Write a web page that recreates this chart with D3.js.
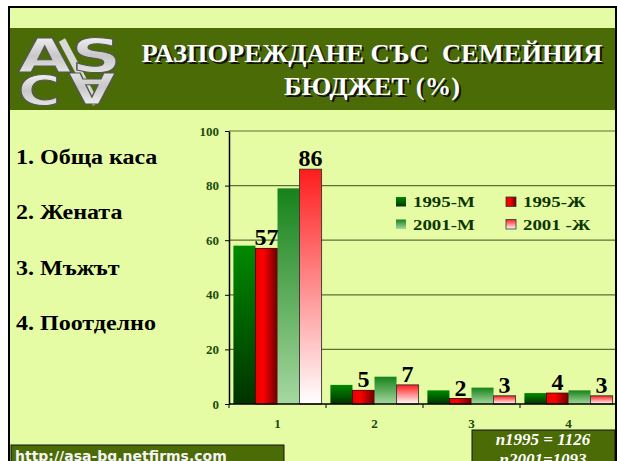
<!DOCTYPE html>
<html>
<head>
<meta charset="utf-8" />
<title>Разпореждане със семейния бюджет</title>
<style>
  body { margin: 0; background: #fff; }
  svg { display: block; }
  text { white-space: pre; }
</style>
</head>
<body>
<div id="chart"></div>
<script src="https://cdn.jsdelivr.net/npm/d3@7/dist/d3.min.js"></script>
<script>
// data
var categories = ["1", "2", "3", "4"];
var categoryNames = ["1. Обща каса", "2. Жената", "3. Мъжът", "4. Поотделно"];
var seriesNames = ["1995-М", "1995-Ж", "2001-М", "2001 -Ж"];
var values1995M = [58, 7, 5, 4];
var values1995F = [57, 5, 2, 4];
var values2001M = [79, 10, 6, 5];
var values2001F = [86, 7, 3, 3];
var labelledSeries = ["1995-Ж", "2001 -Ж"];
var yTicks = [0, 20, 40, 60, 80, 100];
var titleLines = ["РАЗПОРЕЖДАНЕ СЪС  СЕМЕЙНИЯ", "БЮДЖЕТ (%)"];
var sampleNotes = ["n1995 = 1126", "n2001=1093"];
var siteUrl = "http://asa-bg.netfirms.com";

var width = 618, height = 461;
var serif = "'Liberation Serif', 'Times New Roman', serif";
var pale = "#e6fca4", olive = "#4b6b06", tickGreen = "#1c4a08";

var svg = d3.select("#chart").append("svg").attr("width", width).attr("height", height);
var defs = svg.append("defs");

function grad(id, horizontal, stops) {
  var g = defs.append("linearGradient").attr("id", id)
    .attr("x1", 0).attr("y1", 0).attr("x2", horizontal ? 1 : 0).attr("y2", horizontal ? 0 : 1);
  stops.forEach(function(s) { g.append("stop").attr("offset", s[0]).attr("stop-color", s[1]); });
}
grad("g0", false, [[0, "#008a00"], [1, "#003300"]]);
grad("g1", true, [[0, "#e80000"], [0.35, "#ff0000"], [1, "#6a0000"]]);
grad("g2", false, [[0, "#16821a"], [1, "#a6d8a0"]]);
grad("g3", false, [[0, "#ff1c1c"], [1, "#ffffff"]]);
grad("silver", false, [[0, "#ffffff"], [0.5, "#c8c8c8"], [1, "#f4f4f4"]]);
var fills = ["url(#g0)", "url(#g1)", "url(#g2)", "url(#g3)"];
var strokes = ["none", "#500000", "none", "#333"];

// stretch text horizontally like the original slide rendering
function stretch(sel, k) {
  sel.each(function() {
    var w = this.getComputedTextLength();
    d3.select(this).attr("textLength", w * k).attr("lengthAdjust", "spacingAndGlyphs");
  });
}

// frame
svg.append("rect").attr("x", 9).attr("y", 7).attr("width", 607).attr("height", 470)
  .attr("fill", pale).attr("stroke", "#000").attr("stroke-width", 2);

// title band
svg.append("rect").attr("x", 10).attr("y", 28).attr("width", 605).attr("height", 82).attr("fill", olive);

// logo
var logo = svg.append("g").attr("font-family", "'DejaVu Sans', sans-serif").attr("font-weight", "bold")
  .attr("fill", "url(#silver)").attr("stroke", "#555").attr("stroke-width", 1);
logo.append("line").attr("x1", 62).attr("y1", 40).attr("x2", 96).attr("y2", 104)
  .attr("stroke", "#d8d8d8").attr("stroke-width", 7);
logo.append("text").attr("x", 18).attr("y", 72).attr("font-size", 46).text("AS").call(stretch, 1.5);
logo.append("text").attr("x", 18).attr("y", 105).attr("font-size", 40).text("C").call(stretch, 1.45);
logo.append("text").attr("x", 92).attr("y", 88).attr("font-size", 42).attr("text-anchor", "middle")
  .attr("transform", "rotate(180,92,88)").attr("dy", "0.36em").text("A").call(stretch, 1.45);

// title
var title = svg.append("g").attr("font-family", serif).attr("font-weight", "bold")
  .attr("font-size", 25).attr("text-anchor", "middle");
titleLines.forEach(function(t, i) {
  var yy = 62 + i * 33;
  title.append("text").attr("x", 374).attr("y", yy + 2).attr("fill", "#111").text(t).call(stretch, 1.06);
  title.append("text").attr("x", 372).attr("y", yy).attr("fill", "#fff").text(t).call(stretch, 1.06);
});

// category names on the left
svg.append("g").selectAll("text").data(categoryNames).enter().append("text")
  .attr("x", 16).attr("y", function(d, i) { return 164 + i * 55.3; })
  .attr("font-family", serif).attr("font-weight", "bold").attr("font-size", 20)
  .attr("fill", "#000").text(function(d) { return d; }).call(stretch, 1.2);

// scales
var x0 = d3.scaleBand().domain(categories).range([229, 617]);
var x1 = d3.scaleBand().domain(seriesNames).range([4.4, x0.bandwidth() - 4.4]);
var y = d3.scaleLinear().domain([0, 100]).range([404, 131]);

var table = categories.map(function(c, i) {
  return { cat: c, vals: [values1995M[i], values1995F[i], values2001M[i], values2001F[i]] };
});

// gridlines
svg.append("g").selectAll("line").data(yTicks.slice(1)).enter().append("line")
  .attr("x1", 229).attr("x2", 615).attr("y1", function(d) { return y(d); }).attr("y2", function(d) { return y(d); })
  .attr("stroke", "#5c6e38").attr("stroke-width", 1.2);

// legend
var legend = svg.append("g");
seriesNames.forEach(function(s, i) {
  var lx = 396 + (i % 2) * 110, ly = 197 + Math.floor(i / 2) * 22.5;
  legend.append("rect").attr("x", lx).attr("y", ly).attr("width", 10).attr("height", 9.5)
    .attr("fill", fills[i]).attr("stroke", strokes[i] === "none" ? "none" : "#333").attr("stroke-width", 0.8);
  legend.append("text").attr("x", lx + 17).attr("y", ly + 10)
    .attr("font-family", serif).attr("font-weight", "bold").attr("font-size", 14.5)
    .attr("fill", "#0c3600").text(s).call(stretch, 1.3);
});

// bars
var groups = svg.append("g").selectAll("g").data(table).enter().append("g")
  .attr("transform", function(d) { return "translate(" + x0(d.cat) + ",0)"; });
groups.selectAll("rect").data(function(d) {
  return d.vals.map(function(v, i) { return { key: seriesNames[i], v: v, i: i }; });
}).enter().append("rect")
  .attr("x", function(d) { return x1(d.key); })
  .attr("y", function(d) { return y(d.v); })
  .attr("width", x1.bandwidth())
  .attr("height", function(d) { return y(0) - y(d.v); })
  .attr("fill", function(d) { return fills[d.i]; })
  .attr("stroke", function(d) { return strokes[d.i]; })
  .attr("stroke-width", 0.9);

// value labels on the women's bars
groups.selectAll("text.val").data(function(d) {
  return d.vals.map(function(v, i) { return { key: seriesNames[i], v: v }; })
    .filter(function(e) { return labelledSeries.indexOf(e.key) >= 0; });
}).enter().append("text").attr("class", "val")
  .attr("x", function(d) { return x1(d.key) + x1.bandwidth() / 2; })
  .attr("y", function(d) { return y(d.v) - 3; })
  .attr("text-anchor", "middle").attr("font-family", serif).attr("font-weight", "bold")
  .attr("font-size", 24).attr("fill", "#000").text(function(d) { return d.v; });

// axes
var yAxis = svg.append("g").attr("transform", "translate(229,0)")
  .call(d3.axisLeft(y).tickValues(yTicks).tickSize(4).tickSizeOuter(0).tickPadding(6));
var xAxis = svg.append("g").attr("transform", "translate(0,404)")
  .call(d3.axisBottom(x0).tickSize(0).tickPadding(15));
xAxis.select(".domain").remove();
svg.append("line").attr("x1", 229).attr("x2", 615).attr("y1", 404).attr("y2", 404).attr("stroke", "#000").attr("stroke-width", 1.5);
svg.append("g").selectAll("line").data(categories).enter().append("line")
  .attr("x1", function(d) { return x0(d); }).attr("x2", function(d) { return x0(d); })
  .attr("y1", 404).attr("y2", 408).attr("stroke", "#000");
yAxis.select(".domain").attr("stroke", "#000").attr("stroke-width", 1.5);
svg.selectAll(".tick text").attr("font-family", serif).attr("font-weight", "bold")
  .attr("font-size", 13).attr("fill", tickGreen);
svg.selectAll(".tick line").attr("stroke", "#000");

// footer boxes
svg.append("rect").attr("x", 11).attr("y", 445).attr("width", 273).attr("height", 30)
  .attr("fill", olive).attr("stroke", "#111").attr("stroke-width", 1);
svg.append("text").attr("x", 15).attr("y", 461).attr("font-family", "'DejaVu Sans', sans-serif")
  .attr("font-weight", "bold").attr("font-size", 14).attr("fill", "#f4f4f4").text(siteUrl);

svg.append("rect").attr("x", 472).attr("y", 430).attr("width", 143).attr("height", 45)
  .attr("fill", olive).attr("stroke", "#111").attr("stroke-width", 1);
svg.append("g").selectAll("text").data(sampleNotes).enter().append("text")
  .attr("x", 543).attr("y", function(d, i) { return 444.5 + i * 20.5; })
  .attr("text-anchor", "middle").attr("font-family", serif).attr("font-style", "italic")
  .attr("font-weight", "bold").attr("font-size", 17).attr("fill", "#fff").text(function(d) { return d; });
</script>
</body>
</html>
